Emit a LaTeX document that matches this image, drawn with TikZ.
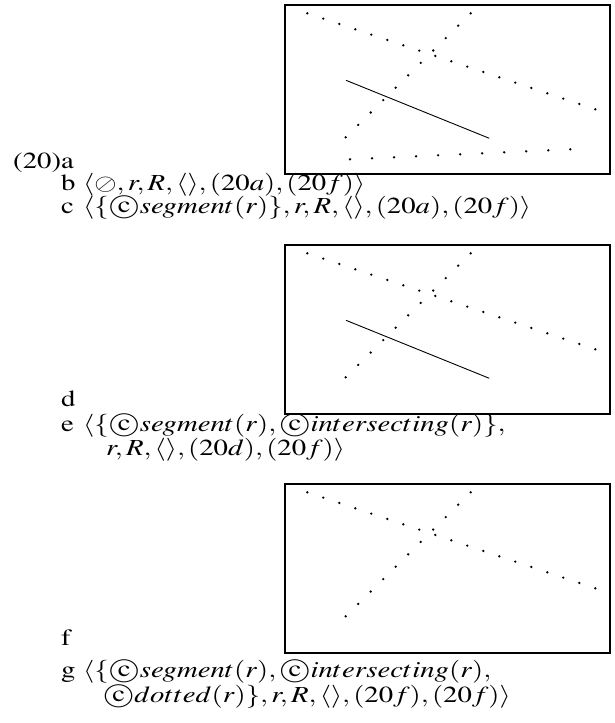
\documentclass[tikz,border=0pt]{standalone}
\usepackage[T1]{fontenc}
\usepackage{mathptmx}
\usepackage{graphicx}
\usetikzlibrary{calc}
\newcommand{\circc}{\mbox{\textcircled{c}}}
\newcommand{\wide}[1]{\scalebox{1.25}[1]{#1}}
\newcommand{\dotrow}[3]{\foreach \t in {0,...,#3}{\fill ($(#1)!\t/#3!(#2)$) circle (1.3pt);}}
\tikzset{
	framebox/.style={
			draw=black,
			line width=2pt
		},
	segline/.style={
			draw=black,
			line width=0.9pt
		},
	itemtext/.style={
			anchor=base west,
			inner sep=0pt,
			font=\fontsize{23}{27}\selectfont
		}
}

\begin{document}
\begin{tikzpicture}[x=1pt, y=-1pt]
	\useasboundingbox (0,0) rectangle (615,723);

	% panel (20a)
	\begin{scope}[shift={(285,5)}]
		\draw[framebox] (0,0) rectangle (325,169);
		\coordinate (pa1) at (22.3,8.3);
		\coordinate (pa2) at (310.3,104.3);
		\coordinate (pb1) at (60.7,132.3);
		\coordinate (pb2) at (185.7,8.3);
		\coordinate (pc1) at (65,154.3);
		\coordinate (pc2) at (285.3,144.3);
		\coordinate (ps1) at (61,75.3);
		\coordinate (ps2) at (204.3,133.3);
		\dotrow{pa1}{pa2}{18}
		\dotrow{pb1}{pb2}{10}
		\dotrow{pc1}{pc2}{10}
		\draw[segline] (ps1) -- (ps2);
	\end{scope}

	% panel (20d)
	\begin{scope}[shift={(285,245)}]
		\draw[framebox] (0,0) rectangle (325,169);
		\coordinate (da1) at (22.3,8.3);
		\coordinate (da2) at (310.3,104.3);
		\coordinate (db1) at (60.7,132.3);
		\coordinate (db2) at (185.7,8.3);
		\coordinate (ds1) at (61,75.3);
		\coordinate (ds2) at (204.3,133.3);
		\dotrow{da1}{da2}{18}
		\dotrow{db1}{db2}{10}
		\draw[segline] (ds1) -- (ds2);
	\end{scope}

	% panel (20f)
	\begin{scope}[shift={(285,484)}]
		\draw[framebox] (0,0) rectangle (325,169);
		\coordinate (fa1) at (22.3,8.3);
		\coordinate (fa2) at (310.3,104.3);
		\coordinate (fb1) at (60.7,132.3);
		\coordinate (fb2) at (185.7,8.3);
		\dotrow{fa1}{fa2}{18}
		\dotrow{fb1}{fb2}{10}
	\end{scope}

	\node[itemtext] (ta) at (13,168) {\wide{(20)a}};
	\node[itemtext] (tb) at (61,190) {\wide{b}};
	\node[itemtext] (eb) at (83,190) {\wide{$\langle\oslash, r, R, \langle\rangle, (20a), (20f)\rangle$}};
	\node[itemtext] (tc) at (61,213) {\wide{c}};
	\node[itemtext] (ec) at (83,213) {\wide{$\langle\{\circc segment(r)\}, r, R, \langle\rangle, (20a), (20f)\rangle$}};
	\node[itemtext] (td) at (61,406) {\wide{d}};
	\node[itemtext] (te) at (61,431) {\wide{e}};
	\node[itemtext] (ee) at (83,431) {\wide{$\langle\{\circc segment(r), \circc intersecting(r)\},$}};
	\node[itemtext] (ee2) at (106,455) {\wide{$r, R, \langle\rangle, (20d), (20f)\rangle$}};
	\node[itemtext] (tf) at (61,645) {\wide{f}};
	\node[itemtext] (tg) at (61,677) {\wide{g}};
	\node[itemtext] (eg) at (83,677) {\wide{$\langle\{\circc segment(r), \circc intersecting(r),$}};
	\node[itemtext] (eg2) at (103,702) {\wide{$\circc dotted(r)\}, r, R, \langle\rangle, (20f), (20f)\rangle$}};
\end{tikzpicture}
\end{document}
